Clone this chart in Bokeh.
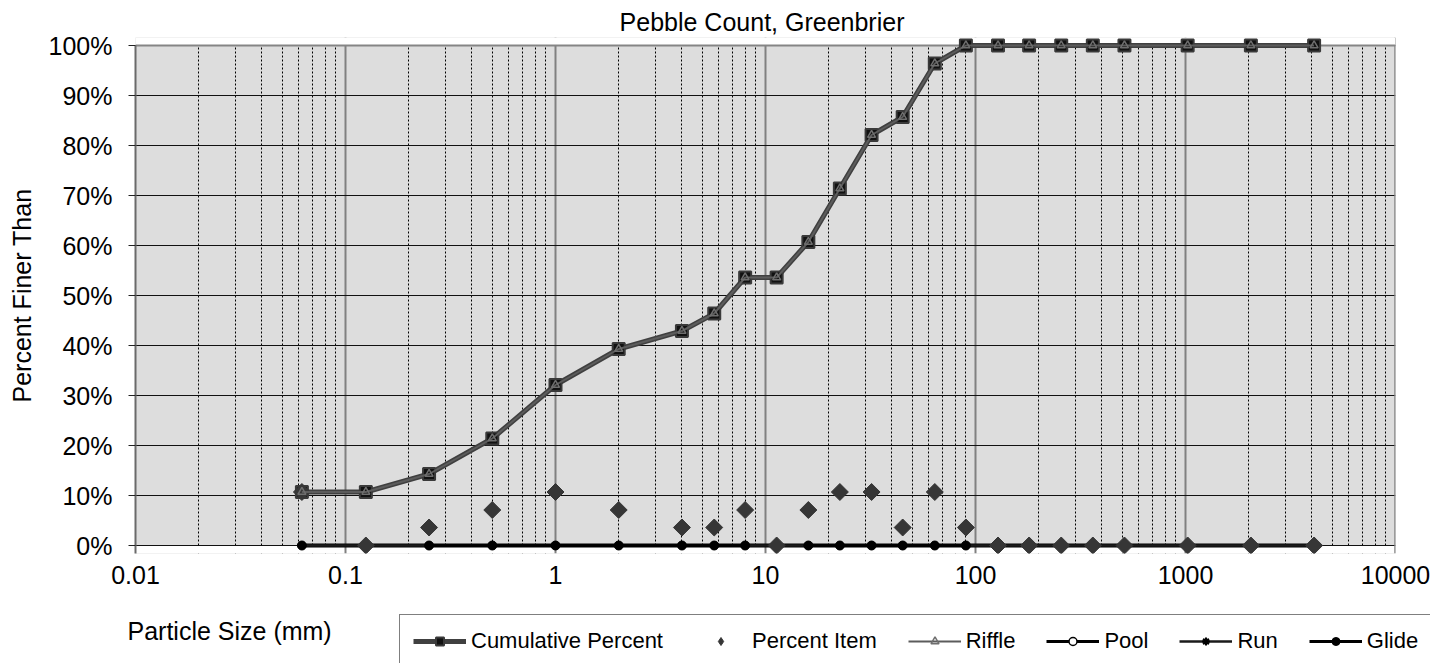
from bokeh.plotting import figure
from bokeh.layouts import column
from bokeh.models import (FixedTicker, PrintfTickFormatter, Legend, LegendItem,
                          Label, Range1d, Grid, BoxAnnotation, Span)
from bokeh.embed import file_html
from bokeh.resources import INLINE

nan = float("nan")

# ---- data ----
title_text = "Pebble Count,  Greenbrier"
x_label = "Particle Size (mm)"
y_label = "Percent Finer Than"

sizes_mm = [0.062, 0.125, 0.25, 0.5, 1, 2, 4, 5.7, 8, 11.3, 16, 22.6, 32, 45,
            64, 90, 128, 180, 256, 362, 512, 1024, 2048, 4096]
cumulative_pct = [10.7, 10.7, 14.3, 21.4, 32.1, 39.3, 42.9, 46.4, 53.6, 53.6,
                  60.7, 71.4, 82.1, 85.7, 96.4, 100, 100, 100, 100, 100, 100,
                  100, 100, 100]
percent_item = [10.7, 0, 3.6, 7.1, 10.7, 7.1, 3.6, 3.6, 7.1, 0, 7.1, 10.7,
                10.7, 3.6, 10.7, 3.6, 0, 0, 0, 0, 0, 0, 0, 0]
riffle_pct = [10.7, 10.7, 14.3, 21.4, 32.1, 39.3, 42.9, 46.4, 53.6, 53.6,
              60.7, 71.4, 82.1, 85.7, 96.4, 100, 100, 100, 100, 100, 100,
              100, 100, 100]
pool_pct = [0, 0, 0, 0, 0, 0, 0, 0, 0, 0, 0, 0, 0, 0, 0, 0, 0, 0, 0, 0, 0, 0, 0, 0]
run_pct = [0, 0, 0, 0, 0, 0, 0, 0, 0, 0, 0, 0, 0, 0, 0, 0, 0, 0, 0, 0, 0, 0, 0, 0]
glide_pct = [0, nan, 0, 0, 0, 0, 0, 0, 0, nan, 0, 0, 0, 0, 0, 0, nan, nan,
             nan, nan, nan, nan, nan, nan]

x_major_ticks = [0.01, 0.1, 1, 10, 100, 1000, 10000]
x_major_labels = ["0.01", "0.1", "1", "10", "100", "1000", "10000"]
x_minor_ticks = [m * d for d in [0.01, 0.1, 1, 10, 100, 1000]
                 for m in [2, 3, 4, 5, 6, 7, 8, 9]]
y_ticks = [0, 10, 20, 30, 40, 50, 60, 70, 80, 90, 100]
y_min, y_max = 0, 100

legend_labels = ["Cumulative Percent", "Percent Item", "Riffle", "Pool", "Run", "Glide"]

FONT = "Liberation Sans"
PAD = 1.6  # small white margin (in % units) so markers on 0% / 100% are not cut

# ---- styles ----
cum_line_style = dict(line_color="#404040", line_width=5)
cum_pt_style = dict(marker="square", size=12, fill_color="#111111",
                    line_color="#3a3a3a", line_width=2)
item_style = dict(marker="square", angle=0.785398, size=12,
                  fill_color="#363636", line_color="#363636")
item_key_style = dict(marker="diamond", size=14, fill_color="#363636",
                      line_color="#363636")
riffle_line_style = dict(line_color="#5c5c5c", line_width=2)
riffle_pt_style = dict(marker="triangle", size=8, fill_alpha=0,
                       line_color="#6e6e6e", line_width=1.5)
pool_line_style = dict(line_color="black", line_width=4)
pool_pt_style = dict(marker="circle", size=7, fill_color="white",
                     line_color="black", line_width=1.5)
run_line_style = dict(line_color="#1a1a1a", line_width=2.5)
run_pt_style = dict(marker="asterisk", size=8, line_color="black", line_width=2)
glide_line_style = dict(line_color="black", line_width=3)
glide_pt_style = dict(marker="circle", size=9, fill_color="black",
                      line_color="black")

W = 1430
p = figure(width=W, height=600, x_axis_type="log",
           x_range=Range1d(0.01, 10000),
           y_range=Range1d(y_min - PAD, y_max + PAD),
           output_backend="svg", toolbar_location=None,
           min_border_left=135, min_border_right=35, min_border_top=37,
           min_border_bottom=47,
           background_fill_color="#dddddd", border_fill_color="white",
           outline_line_color=None)

# title
p.title.text = title_text
p.title.align = "center"
p.title.text_font = FONT
p.title.text_font_size = "25px"
p.title.text_font_style = "normal"
p.title.text_color = "black"
p.title.standoff = 3

# x axis
xticker = FixedTicker(ticks=x_major_ticks, minor_ticks=x_minor_ticks)
xa = p.xaxis[0]
xa.ticker = xticker
xa.major_label_overrides = {t: l for t, l in zip(x_major_ticks, x_major_labels)}
xa.major_label_text_font = FONT
xa.major_label_text_font_size = "25px"
xa.major_label_text_color = "black"
xa.major_label_standoff = 12
xa.major_tick_out = 0
xa.major_tick_in = 0
xa.minor_tick_out = 0
xa.minor_tick_in = 0
xa.axis_line_color = None

# y axis
ya = p.yaxis[0]
ya.ticker = FixedTicker(ticks=y_ticks)
ya.formatter = PrintfTickFormatter(format="%d%%")
ya.bounds = (y_min - PAD, y_max)
ya.major_label_text_font = FONT
ya.major_label_text_font_size = "25px"
ya.major_label_text_color = "black"
ya.major_label_standoff = 16
ya.major_tick_out = 7
ya.major_tick_in = 0
ya.minor_tick_out = 0
ya.minor_tick_in = 0
ya.major_tick_line_color = "#222222"
ya.axis_line_color = "#6a6a6a"
ya.axis_line_width = 2
ya.axis_label = y_label
ya.axis_label_text_font = FONT
ya.axis_label_text_font_size = "25px"
ya.axis_label_text_font_style = "normal"
ya.axis_label_text_color = "black"
ya.axis_label_standoff = 10

# grids: minor (dashed) under a white strip below 0 %, major decades over it
xgrid = p.xgrid[0]
xgrid.grid_line_color = "#808080"
xgrid.grid_line_width = 2
xgrid.minor_grid_line_color = None
ygrid = p.ygrid[0]
ygrid.grid_line_color = "#111111"
ygrid.grid_line_width = 1.2

minor_grid = Grid(dimension=0, ticker=xticker, grid_line_color=None,
                  minor_grid_line_color="black", minor_grid_line_width=1,
                  minor_grid_line_dash="2 2")
below_zero = BoxAnnotation(top=y_min, fill_color="white", fill_alpha=1,
                           line_color=None, level="underlay")
above_top = BoxAnnotation(bottom=y_max, fill_color="white", fill_alpha=1,
                          line_color=None, level="underlay")
right_edge = Span(location=10000, dimension="height", line_color="#858585",
                  line_width=2.5, level="underlay")
top_edge = Span(location=y_max, dimension="width", line_color="#858585",
                line_width=2, level="underlay")
p.center = [minor_grid, below_zero, xgrid, ygrid, right_edge, above_top, top_edge]

# ---- series ----
cum_line = p.line(sizes_mm, cumulative_pct, **cum_line_style)
cum_pts = p.scatter(sizes_mm, cumulative_pct, **cum_pt_style)
pool_line = p.line(sizes_mm, pool_pct, **pool_line_style)
run_line = p.line(sizes_mm, run_pct, **run_line_style)
pool_pts = p.scatter(sizes_mm, pool_pct, **pool_pt_style)
run_pts = p.scatter(sizes_mm, run_pct, **run_pt_style)
item_pts = p.scatter(sizes_mm, percent_item, **item_style)
riffle_line = p.line(sizes_mm, riffle_pct, **riffle_line_style)
riffle_pts = p.scatter(sizes_mm, riffle_pct, **riffle_pt_style)
glide_line = p.line(sizes_mm, glide_pct, **glide_line_style)
glide_pts = p.scatter(sizes_mm, glide_pct, **glide_pt_style)

# ---- bottom strip: x-axis title and legend ----
BH = 63
bf = figure(width=W, height=BH,
            output_backend="svg", toolbar_location=None, min_border=0,
            min_border_left=0, min_border_right=0, min_border_top=0,
            min_border_bottom=0, x_axis_location=None, y_axis_location=None,
            outline_line_color=None, background_fill_color="white",
            border_fill_color="white")
bf.grid.visible = False
aligned = False
try:
    bf.frame_align = False
    p.frame_align = False
except Exception:
    aligned = True

if aligned:
    fl, fr = 135, 1395
else:
    fl, fr = 0, W
bf.x_range = Range1d(fl, fr)
bf.y_range = Range1d(0, BH)

bf.add_layout(Label(x=max(127, fl), y=33, text=x_label, text_font=FONT,
                    text_font_size="25px", text_color="black",
                    text_align="left", text_baseline="middle"))

# legend proxies (same series, hidden in this strip, used only for the key)
def hidden(r):
    r.visible = False
    return r

lg_cum = [hidden(bf.line(sizes_mm, cumulative_pct, **cum_line_style)),
          hidden(bf.scatter(sizes_mm, cumulative_pct, **cum_pt_style))]
lg_item = [hidden(bf.scatter(sizes_mm, percent_item, **item_key_style))]
lg_riffle = [hidden(bf.line(sizes_mm, riffle_pct, **riffle_line_style)),
             hidden(bf.scatter(sizes_mm, riffle_pct, **riffle_pt_style))]
lg_pool = [hidden(bf.line(sizes_mm, pool_pct, line_color="black", line_width=3)),
           hidden(bf.scatter(sizes_mm, pool_pct, **pool_pt_style))]
lg_run = [hidden(bf.line(sizes_mm, run_pct, **run_line_style)),
          hidden(bf.scatter(sizes_mm, run_pct, **run_pt_style))]
lg_glide = [hidden(bf.line(sizes_mm, glide_pct, **glide_line_style)),
            hidden(bf.scatter(sizes_mm, glide_pct, **glide_pt_style))]

legend = Legend(items=[
    LegendItem(label=legend_labels[0], renderers=lg_cum),
    LegendItem(label=legend_labels[1], renderers=lg_item),
    LegendItem(label=legend_labels[2], renderers=lg_riffle),
    LegendItem(label=legend_labels[3], renderers=lg_pool),
    LegendItem(label=legend_labels[4], renderers=lg_run),
    LegendItem(label=legend_labels[5], renderers=lg_glide),
], orientation="horizontal", location=(399 - fl, -5), margin=0, padding=13,
    spacing=31, glyph_width=53, glyph_height=20, label_standoff=5,
    label_text_font=FONT, label_text_font_size="22px", label_text_color="black",
    border_line_color="black", border_line_width=1.2,
    background_fill_color="white", background_fill_alpha=1)
bf.add_layout(legend)

layout = column(p, bf, spacing=0)
open("out.html", "w").write(file_html(layout, INLINE))
